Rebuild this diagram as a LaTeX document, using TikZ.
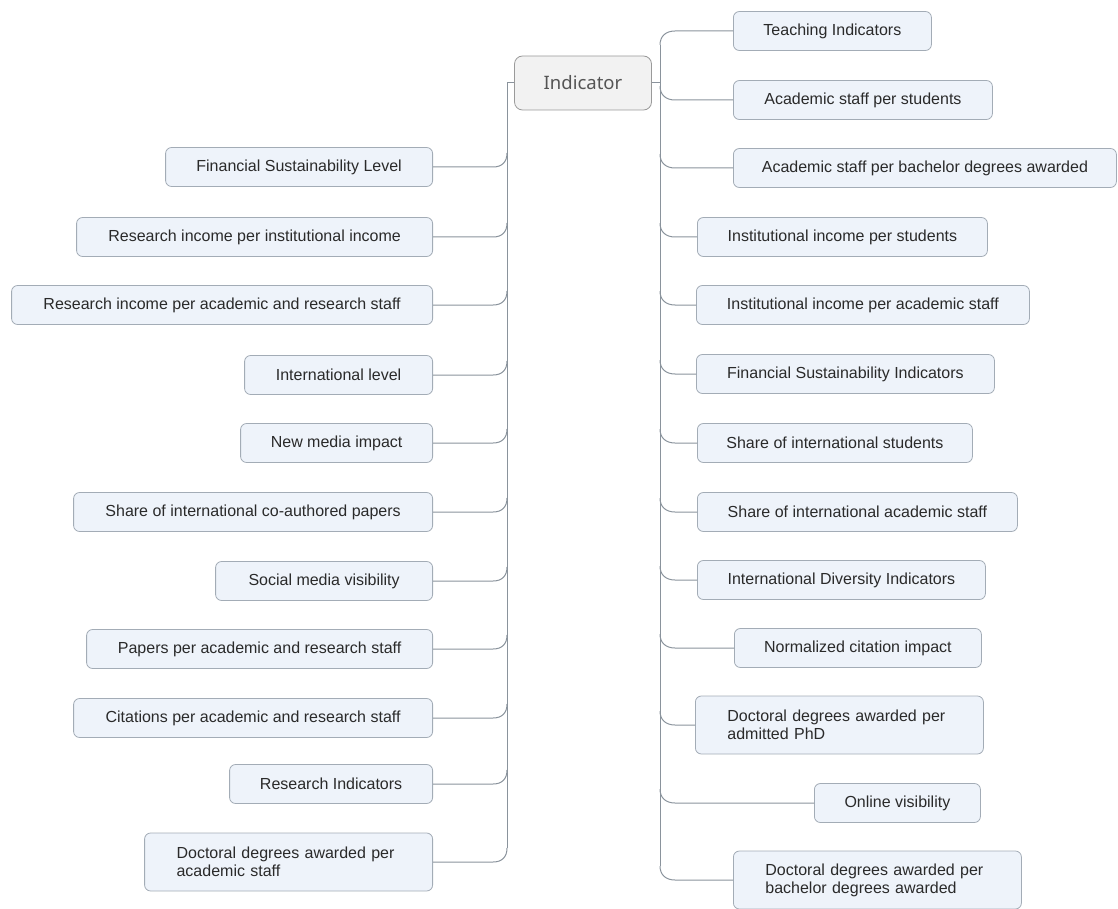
\documentclass[tikz,border=0pt]{standalone}
\usepackage{fontspec}
\setmainfont{Liberation Sans}
\newfontfamily\rootfont{Noto Sans}
\usetikzlibrary{calc}
\definecolor{boxfill}{HTML}{EEF3FA}
\definecolor{boxline}{HTML}{A3ACB6}
\definecolor{conncol}{HTML}{8A939C}
\definecolor{txt}{HTML}{2A2A2A}
\definecolor{rootfill}{HTML}{F2F2F2}
\definecolor{rootline}{HTML}{9A9A9A}
\definecolor{roottxt}{HTML}{555555}
\begin{document}
\begin{tikzpicture}[x=1pt,y=-1pt,
  leaf/.style={draw=boxline, fill=boxfill, rounded corners=6pt, line width=0.8pt,
    text=txt, font=\fontsize{16}{18}\selectfont, inner xsep=0pt, inner ysep=0pt,
    minimum height=39pt},
  leafL/.style={leaf, anchor=east},
  leafR/.style={leaf, anchor=west},
  twoline/.style={leaf, align=left, inner xsep=32pt, text width=224pt, minimum height=58pt},
  rootbox/.style={draw=rootline, fill=rootfill, rounded corners=8pt, line width=0.8pt,
    text=roottxt, font=\rootfont\fontsize{18.5}{22}\selectfont, minimum width=137pt,
    minimum height=54pt, inner sep=0pt},
  conn/.style={draw=conncol, line width=1pt}]
\useasboundingbox (0,0) rectangle (1118,909);

\node[rootbox] (root) at (583,83) {Indicator};

% left nodes
\node[leafL, minimum width=267pt] (L1) at (433,167) {Financial Sustainability Level};
\node[leafL, minimum width=356pt] (L2) at (433,237) {Research income per institutional income};
\node[leafL, minimum width=421pt] (L3) at (433,305) {Research income per academic and research staff};
\node[leafL, minimum width=188pt] (L4) at (433,375) {International level};
\node[leafL, minimum width=192pt] (L5) at (433,443) {New media impact};
\node[leafL, minimum width=359pt] (L6) at (433,512) {Share of international co-authored papers};
\node[leafL, minimum width=217pt] (L7) at (433,581) {Social media visibility};
\node[leafL, minimum width=346pt] (L8) at (433,649) {Papers per academic and research staff};
\node[leafL, minimum width=359pt] (L9) at (433,718) {Citations per academic and research staff};
\node[leafL, minimum width=203pt] (L10) at (433,784) {Research Indicators};
\node[twoline, anchor=east] (L11) at (433,862) {Doctoral degrees awarded per\\academic staff};

% right nodes
\node[leafR, minimum width=198pt] (R1) at (733,31) {Teaching Indicators};
\node[leafR, minimum width=259pt] (R2) at (733,100) {Academic staff per students};
\node[leafR, minimum width=383pt] (R3) at (733,168) {Academic staff per bachelor degrees awarded};
\node[leafR, minimum width=290pt] (R4) at (697,237) {Institutional income per students};
\node[leafR, minimum width=333pt] (R5) at (696,305) {Institutional income per academic staff};
\node[leafR, minimum width=298pt] (R6) at (696,374) {Financial Sustainability Indicators};
\node[leafR, minimum width=275pt] (R7) at (697,443) {Share of international students};
\node[leafR, minimum width=320pt] (R8) at (697,512) {Share of international academic staff};
\node[leafR, minimum width=288pt] (R9) at (697,580) {International Diversity Indicators};
\node[leafR, minimum width=247pt] (R10) at (734,648) {Normalized citation impact};
\node[twoline, anchor=west] (R11) at (695,725) {Doctoral degrees awarded per\\admitted PhD};
\node[leafR, minimum width=166pt] (R12) at (814,803) {Online visibility};
\node[twoline, anchor=west] (R13) at (733,880) {Doctoral degrees awarded per\\bachelor degrees awarded};

% trunks
\coordinate (lt) at (507,83);
\coordinate (rt) at (660,83);
\draw[conn] (root.west) -- (lt) -- ($(lt |- L11.east)+(0,-14)$);
\draw[conn] (root.east) -- (rt);
\draw[conn] ($(rt |- R1.west)+(0,14)$) -- ($(rt |- R13.west)+(0,-14)$);

% left branches
\foreach \i in {1,...,11}{
  \draw[conn] (L\i.east) -- ($(lt |- L\i.east)+(-14,0)$)
    .. controls +(9,0) and +(0,9) .. ($(lt |- L\i.east)+(0,-14)$);
}
% right branches
\draw[conn] (R1.west) -- ($(rt |- R1.west)+(15,0)$)
  .. controls +(-9,0) and +(0,-9) .. ($(rt |- R1.west)+(0,14)$);
\foreach \i in {2,...,13}{
  \draw[conn] (R\i.west) -- ($(rt |- R\i.west)+(15,0)$)
    .. controls +(-9,0) and +(0,9) .. ($(rt |- R\i.west)+(0,-14)$);
}
\end{tikzpicture}
\end{document}
